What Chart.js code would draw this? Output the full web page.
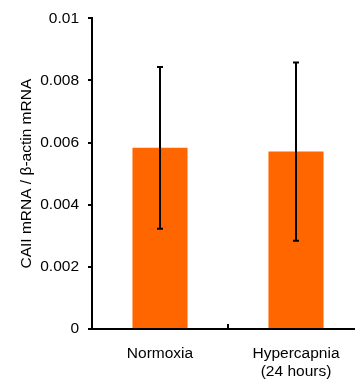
<!DOCTYPE html>
<html>
<head>
<meta charset="utf-8">
<script src="https://cdn.jsdelivr.net/npm/chart.js@4"></script>
<style>
  html, body { margin: 0; padding: 0; background: #fff; overflow: hidden; }
</style>
</head>
<body>
<canvas id="chart" width="364" height="380"></canvas>
<script>
const categories = ["Normoxia", ["Hypercapnia", "(24 hours)"]];
const meanValues = [0.00583, 0.00571];
const sdValues = [0.0026, 0.00287];
const yTickLabels = ["0", "0.002", "0.004", "0.006", "0.008", "0.01"];

const font = { family: "'Liberation Sans', Arial, sans-serif", size: 15.5 };

// error bars drawn through the y scale
const errorBars = {
    id: "errorBars",
    afterDatasetsDraw(chart) {
        const ctx = chart.ctx;
        const y = chart.scales.y;
        chart.getDatasetMeta(0).data.forEach((bar, i) => {
            const hi = y.getPixelForValue(meanValues[i] + sdValues[i]);
            const lo = y.getPixelForValue(meanValues[i] - sdValues[i]);
            const x = bar.x;
            ctx.save();
            ctx.strokeStyle = "#000";
            ctx.lineWidth = 2;
            ctx.beginPath();
            ctx.moveTo(x, hi);
            ctx.lineTo(x, lo);
            ctx.moveTo(x - 3, hi);
            ctx.lineTo(x + 3, hi);
            ctx.moveTo(x - 3, lo);
            ctx.lineTo(x + 3, lo);
            ctx.stroke();
            ctx.restore();
        });
    },
};

new Chart(document.getElementById("chart"), {
    type: "bar",
    data: {
        labels: categories,
        datasets: [
            {
                data: meanValues,
                backgroundColor: "#ff6600",
                borderWidth: 0,
                categoryPercentage: 1,
                barPercentage: 0.405,
            },
        ],
    },
    options: {
        responsive: false,
        animation: false,
        layout: { padding: { top: 17, right: 0, bottom: 0, left: 0 } },
        plugins: {
            legend: { display: false },
            tooltip: { enabled: false },
        },
        scales: {
            x: {
                grid: {
                    drawOnChartArea: false,
                    drawTicks: true,
                    tickLength: -5,
                    color: "#000",
                    lineWidth: 2,
                },
                border: { color: "#000", width: 2 },
                ticks: { color: "#000", font: font, padding: 20, maxRotation: 0 },
                afterFit: (s) => { s.height = 51; },
            },
            y: {
                min: 0,
                max: 0.01,
                grid: {
                    drawOnChartArea: false,
                    drawTicks: true,
                    tickLength: 4,
                    color: "#000",
                    lineWidth: 2,
                },
                border: { color: "#000", width: 2 },
                ticks: {
                    stepSize: 0.002,
                    color: "#000",
                    font: font,
                    padding: 9,
                    callback: (v, i) => yTickLabels[i],
                },
                title: {
                    display: true,
                    text: "CAII mRNA / β-actin mRNA",
                    color: "#000",
                    font: font,
                    padding: { top: 17, bottom: 0 },
                },
                afterFit: (s) => { s.width = 92; },
            },
        },
    },
    plugins: [errorBars],
});
</script>
</body>
</html>
